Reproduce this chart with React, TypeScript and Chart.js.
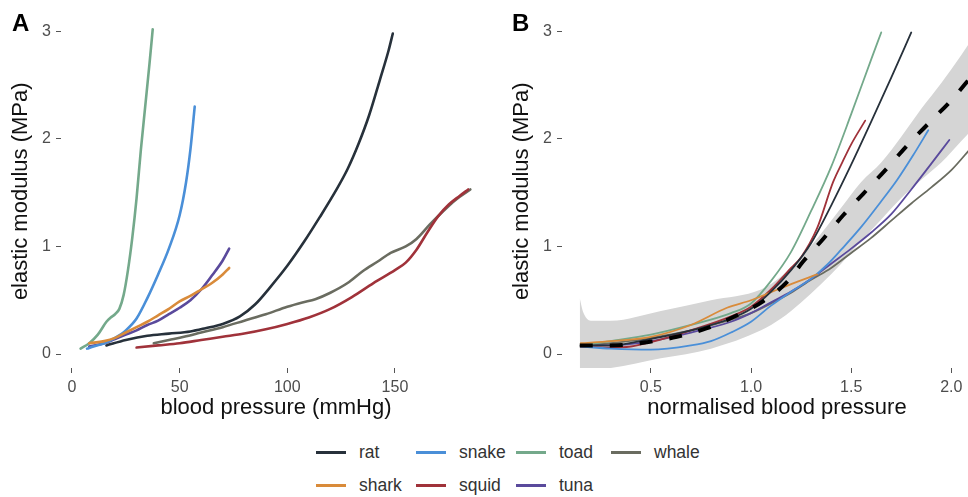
import React, { useEffect, useRef } from "react";
import { Chart, registerables } from "chart.js";

Chart.register(...registerables);

// ---------- Panel A: elastic modulus against absolute blood pressure ----------
const ratP = [16, 25, 35, 45, 55, 62, 70, 78, 85, 92, 100, 108, 115, 122, 128, 133, 138, 143, 147, 149];
const ratE = [0.08, 0.13, 0.17, 0.19, 0.21, 0.24, 0.28, 0.35, 0.46, 0.62, 0.82, 1.05, 1.27, 1.5, 1.72, 1.95, 2.22, 2.55, 2.82, 2.98];

const sharkP = [8, 15, 20, 25, 30, 35, 40, 45, 50, 55, 60, 65, 70, 73];
const sharkE = [0.1, 0.12, 0.15, 0.2, 0.25, 0.3, 0.36, 0.42, 0.49, 0.54, 0.6, 0.66, 0.74, 0.8];

const snakeP = [7, 10, 15, 20, 25, 30, 35, 40, 45, 50, 53, 55, 57];
const snakeE = [0.05, 0.07, 0.1, 0.15, 0.22, 0.33, 0.52, 0.74, 0.98, 1.29, 1.6, 1.9, 2.3];

const squidP = [30, 40, 50, 60, 70, 80, 90, 100, 110, 120, 130, 140, 150, 155, 160, 165, 170, 175, 180, 184];
const squidE = [0.06, 0.08, 0.1, 0.13, 0.16, 0.19, 0.23, 0.28, 0.34, 0.42, 0.53, 0.66, 0.78, 0.85, 0.97, 1.13, 1.28, 1.39, 1.47, 1.53];

const toadP = [4, 8, 12, 16, 18, 20, 22, 24, 26, 28, 30, 32, 34, 36, 37.5];
const toadE = [0.05, 0.1, 0.18, 0.3, 0.34, 0.37, 0.42, 0.55, 0.78, 1.08, 1.45, 1.9, 2.3, 2.7, 3.02];

const tunaP = [8, 15, 20, 25, 30, 35, 40, 45, 50, 55, 60, 65, 70, 73];
const tunaE = [0.07, 0.1, 0.14, 0.18, 0.22, 0.27, 0.31, 0.37, 0.43, 0.5, 0.6, 0.73, 0.87, 0.98];

const whaleP = [38, 45, 52, 60, 70, 80, 90, 100, 107, 113, 120, 128, 135, 142, 148, 155, 160, 166, 172, 178, 185];
const whaleE = [0.1, 0.13, 0.16, 0.2, 0.25, 0.31, 0.37, 0.44, 0.48, 0.51, 0.57, 0.66, 0.77, 0.86, 0.94, 1.0, 1.07, 1.2, 1.32, 1.43, 1.53];

// ---------- Panel B: elastic modulus against normalised blood pressure ----------
const ratNP = [0.15, 0.3, 0.5, 0.7, 0.9, 1.0, 1.1, 1.2, 1.3, 1.4, 1.5, 1.6, 1.7, 1.8];
const ratNE = [0.08, 0.08, 0.14, 0.22, 0.33, 0.42, 0.58, 0.78, 1.03, 1.38, 1.76, 2.16, 2.57, 2.99];

const sharkNP = [0.15, 0.3, 0.5, 0.7, 0.88, 1.0, 1.08, 1.2, 1.33];
const sharkNE = [0.1, 0.12, 0.16, 0.27, 0.43, 0.5, 0.56, 0.65, 0.74];

const snakeNP = [0.15, 0.3, 0.5, 0.7, 0.8, 0.9, 1.0, 1.1, 1.2, 1.3, 1.38, 1.45, 1.545, 1.65, 1.73, 1.81, 1.885];
const snakeNE = [0.07, 0.05, 0.04, 0.08, 0.12, 0.2, 0.3, 0.45, 0.58, 0.7, 0.83, 0.97, 1.17, 1.42, 1.62, 1.85, 2.08];

const squidNP = [0.15, 0.3, 0.4, 0.5, 0.7, 0.9, 1.0, 1.1, 1.2, 1.25, 1.33, 1.41, 1.455, 1.5, 1.57];
const squidNE = [0.07, 0.06, 0.07, 0.11, 0.22, 0.35, 0.44, 0.6, 0.8, 0.9, 1.17, 1.6, 1.78, 1.95, 2.17];

const toadNP = [0.15, 0.3, 0.5, 0.7, 0.9, 1.0, 1.1, 1.2, 1.3, 1.4, 1.5, 1.6, 1.65];
const toadNE = [0.08, 0.12, 0.18, 0.27, 0.38, 0.47, 0.68, 0.95, 1.33, 1.74, 2.23, 2.74, 2.99];

const tunaNP = [0.15, 0.3, 0.5, 0.7, 0.9, 1.0, 1.1, 1.2, 1.3, 1.4, 1.5, 1.6, 1.7, 1.8, 1.9, 1.99];
const tunaNE = [0.08, 0.08, 0.12, 0.2, 0.3, 0.38, 0.48, 0.58, 0.7, 0.84, 0.98, 1.13, 1.3, 1.53, 1.77, 1.99];

const whaleNP = [0.15, 0.3, 0.5, 0.7, 0.9, 1.0, 1.1, 1.2, 1.3, 1.4, 1.5, 1.6, 1.7, 1.8, 1.9, 2.0, 2.1];
const whaleNE = [0.08, 0.1, 0.15, 0.22, 0.32, 0.38, 0.47, 0.57, 0.69, 0.8, 0.94, 1.08, 1.24, 1.4, 1.55, 1.71, 1.92];

// pooled fit and its confidence band
const fitX = [0.145, 0.3, 0.48, 0.63, 0.78, 0.93, 1.06, 1.18, 1.26, 1.36, 1.46, 1.56, 1.68, 1.78, 1.9, 2.0, 2.1];
const fitE = [0.08, 0.08, 0.11, 0.16, 0.24, 0.36, 0.49, 0.67, 0.86, 1.07, 1.29, 1.49, 1.73, 1.94, 2.17, 2.36, 2.58];

const bandX = [0.145, 0.16, 0.2, 0.3, 0.55, 0.8, 1.05, 1.15, 1.25, 1.35, 1.45, 1.55, 1.65, 1.75, 1.85, 1.95, 2.05, 2.1];
const bandHi = [0.52, 0.4, 0.31, 0.31, 0.4, 0.5, 0.6, 0.72, 0.9, 1.12, 1.36, 1.6, 1.78, 2.02, 2.28, 2.52, 2.78, 2.92];
const bandLo = [-0.15, -0.15, -0.14, -0.13, -0.04, 0.05, 0.22, 0.33, 0.48, 0.65, 0.84, 1.05, 1.25, 1.45, 1.62, 1.78, 1.98, 2.08];

// axis ticks
const yTicks = [0, 1, 2, 3];
const xTicksA = [0, 50, 100, 150];
const xTicksB = [0.5, 1.0, 1.5, 2.0];

// legend (two rows, filled column by column)
const legendRow1 = ["rat", "snake", "toad", "whale"];
const legendRow2 = ["shark", "squid", "tuna"];

const COLORS: Record<string, string> = {
  rat: "#27313b",
  shark: "#d98b3a",
  snake: "#4a8fd8",
  squid: "#a0323a",
  toad: "#74a98b",
  tuna: "#5a4a9c",
  whale: "#6a6c60",
};

const FONT = "'Liberation Sans', Arial, Helvetica, sans-serif";

const pts = (xs: number[], ys: number[]) => xs.map((x, i) => ({ x, y: ys[i] }));

function curve(name: string, xs: number[], ys: number[], width: number) {
  return {
    label: name,
    data: pts(xs, ys),
    borderColor: COLORS[name],
    backgroundColor: COLORS[name],
    borderWidth: width,
    pointRadius: 0,
    fill: false,
    cubicInterpolationMode: "monotone" as const,
    borderCapStyle: "round" as const,
  };
}

type PanelProps = {
  left: number;
  width: number;
  datasets: any[];
  xMin: number;
  xMax: number;
  xTicks: number[];
  xFmt: (v: number) => string;
  xTitle: string;
  yAxisWidth: number;
  yTitlePad: number;
};

const HEIGHT = 430;

function Panel(p: PanelProps) {
  const ref = useRef<HTMLCanvasElement>(null);
  useEffect(() => {
    const tickGrid = {
      display: true,
      drawOnChartArea: false,
      drawTicks: true,
      tickLength: 5,
      color: "#555555",
      lineWidth: 1,
    };
    const chart = new Chart(ref.current as HTMLCanvasElement, {
      type: "line",
      data: { datasets: p.datasets },
      options: {
        animation: false,
        responsive: false,
        maintainAspectRatio: false,
        devicePixelRatio: 1,
        layout: { padding: { top: 10, left: 0, right: 0, bottom: 0 } },
        plugins: {
          legend: { display: false },
          tooltip: { enabled: false },
          filler: { drawTime: "beforeDatasetsDraw" },
        } as any,
        scales: {
          x: {
            type: "linear",
            min: p.xMin,
            max: p.xMax,
            afterBuildTicks: (s: any) => {
              s.ticks = p.xTicks.map((v) => ({ value: v }));
            },
            afterFit: (s: any) => {
              s.height = 62;
            },
            grid: tickGrid,
            border: { display: false },
            ticks: {
              padding: 5,
              color: "#4d4d4d",
              font: { family: FONT, size: 16 },
              callback: (v: any) => p.xFmt(Number(v)),
              maxRotation: 0,
            },
            title: {
              display: true,
              text: p.xTitle,
              color: "#111111",
              font: { family: FONT, size: 22 },
              padding: { top: 0, bottom: 9 },
            },
          },
          y: {
            type: "linear",
            min: -0.13,
            max: 3.156,
            afterBuildTicks: (s: any) => {
              s.ticks = yTicks.map((v) => ({ value: v }));
            },
            afterFit: (s: any) => {
              s.width = p.yAxisWidth;
            },
            grid: tickGrid,
            border: { display: false },
            ticks: {
              padding: 5,
              color: "#4d4d4d",
              font: { family: FONT, size: 16 },
              callback: (v: any) => String(v),
            },
            title: {
              display: true,
              text: "elastic modulus (MPa)",
              color: "#111111",
              font: { family: FONT, size: 22 },
              padding: { top: p.yTitlePad, bottom: 0 },
            },
          },
        },
      } as any,
    });
    return () => chart.destroy();
  }, []);
  return (
    <canvas
      ref={ref}
      width={p.width}
      height={HEIGHT}
      style={{ position: "absolute", left: p.left, top: 0, width: p.width, height: HEIGHT }}
    />
  );
}

const datasetsA = [
  curve("rat", ratP, ratE, 2.6),
  curve("shark", sharkP, sharkE, 2.6),
  curve("snake", snakeP, snakeE, 2.6),
  curve("squid", squidP, squidE, 2.6),
  curve("toad", toadP, toadE, 2.6),
  curve("tuna", tunaP, tunaE, 2.6),
  curve("whale", whaleP, whaleE, 2.6),
];

const datasetsB = [
  {
    label: "fit",
    data: pts(fitX, fitE),
    borderColor: "#000000",
    borderWidth: 4,
    borderDash: [13, 17],
    pointRadius: 0,
    fill: false,
    cubicInterpolationMode: "monotone" as const,
  },
  curve("rat", ratNP, ratNE, 1.8),
  curve("shark", sharkNP, sharkNE, 1.8),
  curve("snake", snakeNP, snakeNE, 1.8),
  curve("squid", squidNP, squidNE, 1.8),
  curve("toad", toadNP, toadNE, 1.8),
  curve("tuna", tunaNP, tunaNE, 1.8),
  curve("whale", whaleNP, whaleNE, 1.8),
  {
    label: "lower",
    data: pts(bandX, bandLo),
    borderWidth: 0,
    borderColor: "rgba(0,0,0,0)",
    pointRadius: 0,
    fill: false,
    cubicInterpolationMode: "monotone" as const,
  },
  {
    label: "upper",
    data: pts(bandX, bandHi),
    borderWidth: 0,
    borderColor: "rgba(0,0,0,0)",
    backgroundColor: "#d5d5d5",
    pointRadius: 0,
    fill: "-1",
    cubicInterpolationMode: "monotone" as const,
  },
];

const legendCols = [316, 416, 516, 611];

function LegendItem({ name, left, top }: { name: string; left: number; top: number }) {
  return (
    <div
      style={{
        position: "absolute",
        left,
        top: top - 12,
        height: 24,
        display: "flex",
        alignItems: "center",
        whiteSpace: "nowrap",
      }}
    >
      <div style={{ width: 30, height: 3, background: COLORS[name] }} />
      <span style={{ marginLeft: 13, fontSize: 17.5, color: "#333333", fontFamily: FONT }}>{name}</span>
    </div>
  );
}

export default function App() {
  return (
    <div
      style={{
        position: "fixed",
        left: 0,
        top: 0,
        width: 968,
        height: 497,
        overflow: "hidden",
        background: "#ffffff",
        fontFamily: FONT,
      }}
    >
      <Panel
        left={0}
        width={491}
        datasets={datasetsA}
        xMin={-5.1}
        xMax={194.6}
        xTicks={xTicksA}
        xFmt={(v) => String(v)}
        xTitle="blood pressure (mmHg)"
        yAxisWidth={61}
        yTitlePad={8}
      />
      <Panel
        left={484}
        width={508}
        datasets={datasetsB}
        xMin={0.0564}
        xMax={2.203}
        xTicks={xTicksB}
        xFmt={(v) => v.toFixed(1)}
        xTitle="normalised blood pressure"
        yAxisWidth={78}
        yTitlePad={25}
      />
      <div style={{ position: "absolute", left: 12, top: 11, fontSize: 24, fontWeight: "bold", lineHeight: 1 }}>A</div>
      <div style={{ position: "absolute", left: 512, top: 11, fontSize: 24, fontWeight: "bold", lineHeight: 1 }}>B</div>
      {legendRow1.map((n, i) => (
        <LegendItem key={n} name={n} left={legendCols[i]} top={452} />
      ))}
      {legendRow2.map((n, i) => (
        <LegendItem key={n} name={n} left={legendCols[i]} top={485} />
      ))}
    </div>
  );
}
